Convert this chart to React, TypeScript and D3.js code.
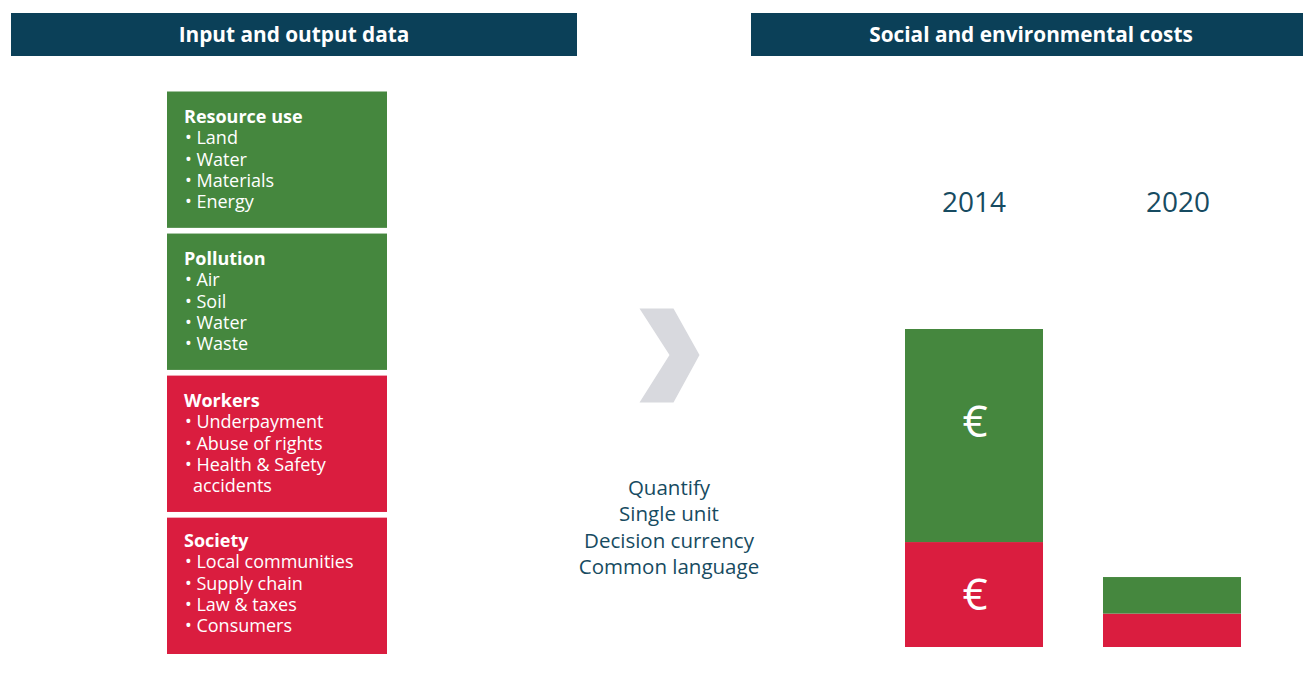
import React from "react";
import * as d3 from "d3";

// ---- data ----
const headers = ["Input and output data", "Social and environmental costs"];
const boxTitles = ["Resource use", "Pollution", "Workers", "Society"];
const boxKinds = ["environmental", "environmental", "social", "social"];
const boxItems: string[][] = [
  ["Land", "Water", "Materials", "Energy"],
  ["Air", "Soil", "Water", "Waste"],
  ["Underpayment", "Abuse of rights", "Health & Safety\naccidents"],
  ["Local communities", "Supply chain", "Law & taxes", "Consumers"],
];
const middleLines = ["Quantify", "Single unit", "Decision currency", "Common language"];
const years = ["2014", "2020"];
const socialCost = [33, 10.5];
const environmentalCost = [67, 11.5];
const showEuro = [true, false];

const W = 1303;
const H = 676;
const GREEN = "#45873e";
const RED = "#da1d3f";
const NAVY = "#0b4058";
const TEAL = "#174b61";
const FONT = "'Open Sans', 'Noto Sans', sans-serif";

export default function App() {
  const boxY = d3.scaleBand<string>().domain(boxTitles).range([91.5, 654]).paddingInner(0.04).paddingOuter(0);
  const barX = d3.scaleBand<string>().domain(years).range([905, 1241]).paddingInner(0.303).paddingOuter(0);
  const labelX = d3.scalePoint<string>().domain(years).range([974, 1178]);
  const y = d3.scaleLinear().domain([0, 100]).range([647, 329]);

  const stackData = years.map((yr, i) => ({ year: yr, social: socialCost[i], environmental: environmentalCost[i] }));
  const stack = d3.stack<any>().keys(["social", "environmental"])(stackData);
  const colorOf: Record<string, string> = { social: RED, environmental: GREEN };

  const chevron = d3.line()([
    [639.5, 308.5],
    [673.5, 308.5],
    [699.5, 355],
    [673.5, 402.5],
    [639.5, 402.5],
    [669.5, 355],
  ]) + "Z";

  return (
    <svg width={W} height={H} style={{ position: "absolute", left: 0, top: 0, fontFamily: FONT }}>
      <rect width={W} height={H} fill="#fff" />
      {/* headers */}
      <rect x={11} y={13} width={566} height={43} fill={NAVY} />
      <rect x={751} y={13} width={W - 751} height={43} fill={NAVY} />
      <text x={294} y={42} textAnchor="middle" fill="#fff" fontSize={20.8} fontWeight={700}>
        {headers[0]}
      </text>
      <text x={1031} y={42} textAnchor="middle" fill="#fff" fontSize={20.8} fontWeight={700}>
        {headers[1]}
      </text>

      {/* input boxes */}
      {boxTitles.map((t, i) => {
        const top = boxY(t)!;
        const off = i === 3 ? 29.5 : 31.5;
        let line = 0;
        const rows: React.ReactNode[] = [];
        boxItems[i].forEach((item, j) => {
          const parts = item.split("\n");
          parts.forEach((p, k) => {
            line += 1;
            rows.push(
              <text key={`${j}-${k}`} x={k === 0 ? 185 : 193} y={top + off + line * 21.3} fill="#fff" fontSize={18}>
                {k === 0 ? "\u2022 " + p : p}
              </text>
            );
          });
        });
        return (
          <g key={t}>
            <rect x={167} y={top} width={220} height={boxY.bandwidth()} fill={boxKinds[i] === "social" ? RED : GREEN} />
            <text x={184} y={top + off} fill="#fff" fontSize={18} fontWeight={700}>
              {t}
            </text>
            {rows}
          </g>
        );
      })}

      {/* chevron */}
      <path d={chevron} fill="#d8d9de" />

      {/* middle text */}
      {middleLines.map((l, i) => (
        <text key={l} x={669} y={495 + i * 26.3} textAnchor="middle" fill={TEAL} fontSize={20.5}>
          {l}
        </text>
      ))}

      {/* bars */}
      {years.map((yr) => (
        <text key={yr} x={labelX(yr)!} y={212} textAnchor="middle" fill={TEAL} fontSize={28}>
          {yr}
        </text>
      ))}
      {stack.map((s) => (
        <g key={s.key}>
          {s.map((d, i) => (
            <g key={i}>
              <rect
                x={barX(years[i])!}
                y={y(d[1])}
                width={barX.bandwidth()}
                height={y(d[0]) - y(d[1])}
                fill={colorOf[s.key]}
              />
              {showEuro[i] && (
                <text
                  x={barX(years[i])! + barX.bandwidth() / 2 + 1}
                  y={s.key === "social" ? (y(d[0]) + y(d[1])) / 2 + 15 : (y(d[0]) + y(d[1])) / 2 + 1}
                  textAnchor="middle"
                  fill="#fff"
                  fontSize={44}
                >
                  €
                </text>
              )}
            </g>
          ))}
        </g>
      ))}
    </svg>
  );
}
